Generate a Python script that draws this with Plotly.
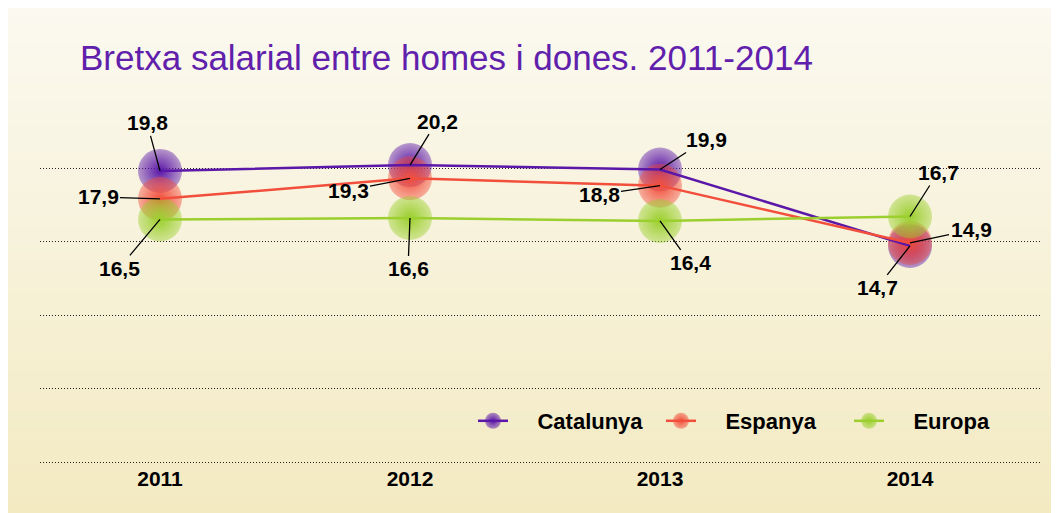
import plotly.graph_objects as go

# ---- data ----
years = ["2011", "2012", "2013", "2014"]
catalunya = [19.8, 20.2, 19.9, 14.7]
espanya = [17.9, 19.3, 18.8, 14.9]
europa = [16.5, 16.6, 16.4, 16.7]
series_names = ["Catalunya", "Espanya", "Europa"]
title_text = "Bretxa salarial entre homes i dones. 2011-2014"

# ---- styles ----
W, H = 1051, 505          # page adds an 8px body margin
colors = {"Catalunya": (91, 23, 168), "Espanya": (242, 78, 60), "Europa": (155, 207, 46)}
series = {"Catalunya": catalunya, "Espanya": espanya, "Europa": europa}
# label offsets (px) relative to each point
label_offsets = {
    "Catalunya": [(-13, -48), (27, -44), (46, -30), (-33, 42)],
    "Espanya": [(-62, -2), (-62, 12), (-61, 9), (61, -13)],
    "Europa": [(-41, 49), (-2, 51), (30, 42), (28, -44)],
}
FONT = "Liberation Sans, Arial, sans-serif"

def rgba(c, a):
    return f"rgba({c[0]},{c[1]},{c[2]},{a})"

fig = go.Figure()

# markers (below lines); radial gradient: gradient.color = centre, marker.color = rim
for n in series_names:
    c = colors[n]
    fig.add_trace(go.Scatter(
        x=years, y=series[n], mode="markers", showlegend=False, hoverinfo="skip",
        cliponaxis=False,
        marker=dict(size=44, color=rgba(c, 0.42),
                    gradient=dict(type="radial", color=rgba(c, 1.0)),
                    line=dict(width=0)),
    ))
# lines
for n in series_names:
    c = colors[n]
    fig.add_trace(go.Scatter(
        x=years, y=series[n], mode="lines", showlegend=False, hoverinfo="skip",
        cliponaxis=False, line=dict(color=rgba(c, 1.0), width=2.5),
    ))
# legend entries
for n in series_names:
    c = colors[n]
    fig.add_trace(go.Scatter(
        x=[None], y=[None], mode="lines+markers", name="\u00a0\u00a0\u00a0\u00a0" + n,
        line=dict(color=rgba(c, 1.0), width=2.5),
        marker=dict(size=16, color=rgba(c, 0.45),
                    gradient=dict(type="radial", color=rgba(c, 1.0)),
                    line=dict(width=0)),
    ))

# value labels with leader lines (category axis -> use category index)
annotations = []
for n in series_names:
    for i, v in enumerate(series[n]):
        ax, ay = label_offsets[n][i]
        annotations.append(dict(
            x=i, y=v, xref="x", yref="y", ax=ax, ay=ay,
            text="<b>" + f"{v:.1f}".replace(".", ",") + "</b>", showarrow=True, arrowhead=0,
            arrowwidth=1.3, arrowcolor="black", standoff=0,
            font=dict(family=FONT, size=21, color="black"),
        ))

# background gradient
shapes = []
top_c = (251, 249, 240)
bot_c = (243, 234, 194)
nb = 60
for k in range(nb):
    t = k / (nb - 1)
    col = tuple(round(top_c[j] + (bot_c[j] - top_c[j]) * t) for j in range(3))
    ya = H * k / nb
    yb = min(H, H * (k + 1) / nb + 0.6)
    shapes.append(dict(type="rect", xref="paper", yref="paper",
                       x0=0, x1=1.0, y0=1 - yb / H, y1=1 - ya / H,
                       fillcolor=f"rgb{col}", line=dict(width=0), layer="below"))

# axis geometry (figure pixels)
px_per_unit = 14.7
plot_top, plot_bot = 87, 456
y_zero_px = 454
ymin = -(plot_bot - y_zero_px) / px_per_unit
ymax = (y_zero_px - plot_top) / px_per_unit

fig.update_layout(
    width=W, height=H,
    margin=dict(l=0, r=0, t=0, b=0, autoexpand=False),
    paper_bgcolor="rgb(247,242,220)", plot_bgcolor="rgba(0,0,0,0)",
    shapes=shapes, annotations=annotations,
    title=dict(text=title_text, x=72 / W, xanchor="left", y=1 - 49.5 / H, yanchor="middle",
               xref="paper", yref="paper",
               font=dict(family=FONT, size=35, color="#6020ac")),
    xaxis=dict(domain=[32 / W, 1032 / W], range=[-0.48, 3.52], type="category",
               showgrid=False, zeroline=False, showline=False, ticks="",
               tickfont=dict(family=FONT, size=21, color="black", weight="bold")),
    yaxis=dict(domain=[(H - plot_bot) / H, (H - plot_top) / H], range=[ymin, ymax],
               tickvals=[0, 5, 10, 15, 20], showticklabels=False, ticks="",
               showgrid=True, gridcolor="#222", gridwidth=1, griddash="1px,2px",
               zeroline=False, showline=False),
    legend=dict(orientation="h", x=465 / W, xanchor="left", y=1 - 413 / H, yanchor="middle",
                bgcolor="rgba(0,0,0,0)", entrywidth=143, entrywidthmode="pixels",
                borderwidth=0,
                font=dict(family=FONT, size=22, color="black", weight="bold")),
    hovermode=False,
)

fig.write_html("out.html")
